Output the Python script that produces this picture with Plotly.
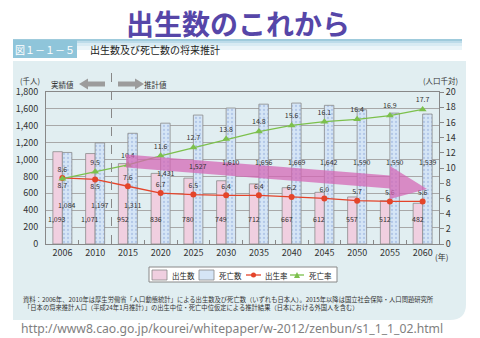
import plotly.graph_objects as go

years = ["2006", "2010", "2015", "2020", "2025", "2030", "2035", "2040", "2045", "2050", "2055", "2060"]
births = [1093, 1071, 952, 836, 780, 749, 712, 667, 612, 557, 512, 482]
deaths = [1084, 1197, 1311, 1431, 1527, 1610, 1656, 1669, 1642, 1590, 1550, 1539]
birth_rate = [8.7, 8.5, 7.6, 6.7, 6.5, 6.4, 6.4, 6.2, 6.0, 5.7, 5.6, 5.6]
death_rate = [8.6, 9.5, 10.4, 11.6, 12.7, 13.8, 14.8, 15.6, 16.1, 16.4, 16.9, 17.7]

# label heights (left-axis units) for bar value labels
birth_label_y = [296] * 12
death_label_y = [462, 462, 462, 840, 924, 970, 970, 970, 970, 970, 970, 970]

W, H = 480, 338
ML, MR, MT, MB = 46, 41, 92, 94
PW, PH = W - ML - MR, H - MT - MB


def PX(px):
    return (px - ML) / PW


def PY(py):
    return (H - MB - py) / PH


def path(pts):
    s = "M " + " L ".join(f"{PX(x):.4f},{PY(y):.4f}" for x, y in pts) + " Z"
    return s


FONT = "Noto Sans CJK JP, Liberation Sans, sans-serif"
PINK = "#f0cfe0"
BLUE = "#d5e5f6"
RED = "#e4442a"
GREEN = "#7cc04c"

fig = go.Figure()
fig.add_trace(go.Bar(x=years, y=births, name="出生数", marker=dict(color=PINK, line=dict(color="#8a8a8a", width=0.8)),
                     showlegend=False))
fig.add_trace(go.Bar(x=years, y=deaths, name="死亡数",
                     marker=dict(color=BLUE, line=dict(color="#8a8a8a", width=0.8),
                                 pattern=dict(shape=".", fgcolor="#8fa9da", bgcolor=BLUE, size=4, solidity=0.25)),
                     showlegend=False))

br_pos = ["bottom center", "bottom center"] + ["top center"] * 10
fig.add_trace(go.Scatter(x=years, y=birth_rate, yaxis="y2", name="出生率", mode="lines+markers+text",
                         line=dict(color=RED, width=1.3), marker=dict(color=RED, size=6, symbol="circle"),
                         text=[f"{v:.1f}" for v in birth_rate], textposition=br_pos,
                         textfont=dict(size=7, color="#333"), showlegend=False))
fig.add_trace(go.Scatter(x=years, y=death_rate, yaxis="y2", name="死亡率", mode="lines+markers+text",
                         line=dict(color=GREEN, width=1.3), marker=dict(color=GREEN, size=7, symbol="triangle-up"),
                         text=[f"{v:.1f}" for v in death_rate], textposition="top center",
                         textfont=dict(size=7, color="#333"), showlegend=False))

ann = []
for i, y in enumerate(years):
    ann.append(dict(x=i, y=birth_label_y[i], xref="x", yref="y", text=f"{births[i]:,}", showarrow=False,
                    xshift=-5, font=dict(size=7, color="#333")))
    ann.append(dict(x=i, y=death_label_y[i], xref="x", yref="y", text=f"{deaths[i]:,}", showarrow=False,
                    xshift=5, font=dict(size=7, color="#333")))

shapes = []
# panel background
r = 16
shapes.append(dict(type="path", xref="paper", yref="paper", layer="below", line=dict(width=0), fillcolor="#e1eef1",
                   path=(f"M {PX(13):.4f},{PY(61):.4f} L {PX(466):.4f},{PY(61):.4f} L {PX(466):.4f},{PY(320 - r):.4f} "
                         f"Q {PX(466):.4f},{PY(320):.4f} {PX(466 - r):.4f},{PY(320):.4f} L {PX(13):.4f},{PY(320):.4f} Z")))
# header band gradient
for (y0, y1, c) in [(39, 41, "#9fcbdc"), (41, 43, "#bddcea"), (43, 46, "#d8ebf3"), (46, 50, "#ebf5f9")]:
    shapes.append(dict(type="rect", xref="paper", yref="paper", layer="below", line=dict(width=0), fillcolor=c,
                       x0=PX(13), x1=PX(462), y0=PY(y1), y1=PY(y0)))
shapes.append(dict(type="rect", xref="paper", yref="paper", layer="below", line=dict(width=0), fillcolor="#8fc5da",
                   x0=PX(13), x1=PX(77), y0=PY(58), y1=PY(40)))
# dashed separator
shapes.append(dict(type="line", xref="x", yref="paper", x0=1.5, x1=1.5, y0=0, y1=PY(72),
                   line=dict(color="#888", width=1, dash="dash")))
# gray arrows
shapes.append(dict(type="path", xref="paper", yref="paper", line=dict(width=0), fillcolor="#9c9c9c",
                   path=path([(105, 81.5), (88, 81.5), (88, 78.5), (79, 84), (88, 89.5), (88, 86.5), (105, 86.5)])))
shapes.append(dict(type="path", xref="paper", yref="paper", line=dict(width=0), fillcolor="#9c9c9c",
                   path=path([(118, 81.5), (135, 81.5), (135, 78.5), (144, 84), (135, 89.5), (135, 86.5), (118, 86.5)])))
# big pink arrow
shapes.append(dict(type="path", xref="paper", yref="paper", line=dict(width=0), fillcolor="rgba(212,100,180,0.72)",
                   layer="above",
                   path=path([(126, 154.5), (390, 175.5), (390, 166), (427, 189), (390, 199), (390, 188.5), (126, 167.5)])))
# legend
shapes.append(dict(type="rect", xref="paper", yref="paper", line=dict(color="#888", width=1), fillcolor="white",
                   x0=PX(149), x1=PX(337), y0=PY(282), y1=PY(267)))
shapes.append(dict(type="rect", xref="paper", yref="paper", line=dict(color="#888", width=0.8), fillcolor=PINK,
                   x0=PX(152), x1=PX(167), y0=PY(280), y1=PY(270)))
shapes.append(dict(type="rect", xref="paper", yref="paper", line=dict(color="#888", width=0.8), fillcolor=BLUE,
                   x0=PX(199), x1=PX(214), y0=PY(280), y1=PY(270)))
shapes.append(dict(type="line", xref="paper", yref="paper", line=dict(color=RED, width=1.3),
                   x0=PX(246), x1=PX(261), y0=PY(275), y1=PY(275)))
shapes.append(dict(type="circle", xref="paper", yref="paper", line=dict(width=0), fillcolor=RED,
                   x0=PX(251), x1=PX(256), y0=PY(277.5), y1=PY(272.5)))
shapes.append(dict(type="line", xref="paper", yref="paper", line=dict(color=GREEN, width=1.3),
                   x0=PX(290), x1=PX(304), y0=PY(275), y1=PY(275)))
shapes.append(dict(type="path", xref="paper", yref="paper", line=dict(width=0), fillcolor=GREEN,
                   path=path([(294, 278), (297, 272), (300, 278)])))

def txt(x, y, s, size, color="#222", anchor="left", **kw):
    ann.append(dict(x=PX(x), y=PY(y), xref="paper", yref="paper", text=s, showarrow=False, xanchor=anchor,
                    yanchor="middle", font=dict(size=size, color=color, family=kw.get("family", FONT))))

txt(238, 23, "<b>出生数のこれから</b>", 28, color="#5646a8", anchor="center")
txt(13, 49.5, "図１－１－５", 10, color="white")
txt(88, 49.5, "出生数及び死亡数の将来推計", 10, color="#222")
txt(30, 80, "(千人)", 7.5, color="#333", anchor="center")
txt(440, 81, "(人口千対)", 7.5, color="#333", anchor="center")
txt(62, 84, "実績値", 7.5, color="#333", anchor="center")
txt(155, 84, "推計値", 7.5, color="#333", anchor="center")
txt(441, 256, "(年)", 8, color="#333", anchor="center")
txt(170, 275, "出生数", 7.5)
txt(217, 275, "死亡数", 7.5)
txt(263, 275, "出生率", 7.5)
txt(307, 275, "死亡率", 7.5)
txt(21, 299, "資料：2006年、2010年は厚生労働省「人口動態統計」による出生数及び死亡数（いずれも日本人）。2015年以降は国立社会保障・人口問題研究所", 6.3, color="#333")
txt(22, 307.5, "「日本の将来推計人口（平成24年1月推計）」の出生中位・死亡中位仮定による推計結果（日本における外国人を含む）", 6.3, color="#333")
txt(19, 328, "http://www8.cao.go.jp/kourei/whitepaper/w-2012/zenbun/s1_1_1_02.html", 12.2, color="#7f7f7f",
    family="Noto Sans, DejaVu Sans, sans-serif")

fig.update_layout(
    width=W, height=H, margin=dict(l=ML, r=MR, t=MT, b=MB, pad=0),
    paper_bgcolor="white", plot_bgcolor="white",
    font=dict(family=FONT, size=9, color="#333"),
    barmode="group", bargap=0.42, bargroupgap=0,
    xaxis=dict(type="category", showline=True, linecolor="#888", linewidth=1, mirror=True,
               ticks="inside", ticklen=4, tickcolor="#888", tickson="boundaries", showgrid=False,
               tickfont=dict(size=9, color="#333"), range=[-0.5, 11.5]),
    yaxis=dict(range=[0, 1800], dtick=200, tickformat=",", showgrid=True, gridcolor="#a8a8a8", gridwidth=1,
               showline=True, linecolor="#888", ticks="outside", ticklen=5, tickcolor="rgba(0,0,0,0)",
               tickfont=dict(size=9, color="#333"), zeroline=False),
    yaxis2=dict(range=[0, 20], dtick=2, overlaying="y", side="right", showgrid=False, zeroline=False,
                showline=True, linecolor="#888", ticks="outside", ticklen=4, tickcolor="#888",
                tickfont=dict(size=9, color="#333")),
    shapes=shapes, annotations=ann,
)

fig.write_html("out.html")
